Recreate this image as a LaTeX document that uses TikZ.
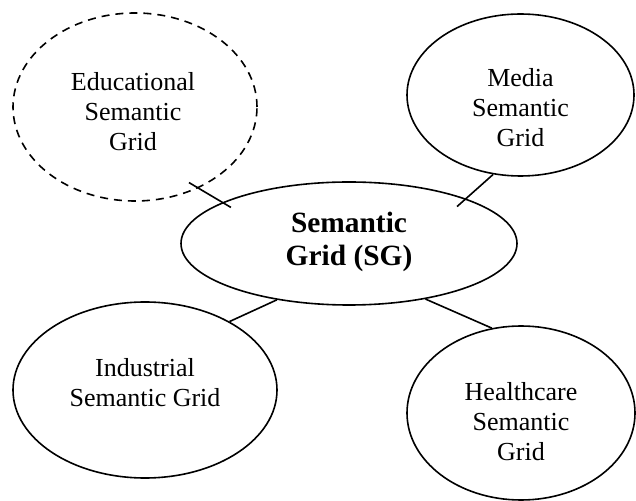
\documentclass[tikz,border=0pt]{standalone}
\usepackage{fontspec}
\setmainfont{Liberation Serif}
\usetikzlibrary{shapes.geometric}

\begin{document}
\begin{tikzpicture}[x=0.5pt,y=-0.5pt,
  bubble/.style={ellipse, draw, line width=0.8pt, inner sep=0pt},
  bubbletext/.style={align=center, font=\fontsize{13}{15}\selectfont},
  link/.style={line width=0.8pt}]
  \useasboundingbox (0,0) rectangle (636,501);
  \node[bubble, dash pattern=on 4pt off 3pt, minimum width=122pt, minimum height=94pt,
    label={[bubbletext, xshift=-1pt, yshift=-2.5pt]center:Educational\\Semantic\\Grid}] (edu) at (135,107) {};
  \node[bubble, minimum width=113.5pt, minimum height=81pt,
    label={[bubbletext, yshift=-6.5pt]center:Media\\Semantic\\Grid}] (media) at (520.5,95) {};
  \node[bubble, minimum width=168pt, minimum height=61.5pt,
    label={[align=center, font=\fontsize{14.7}{16.5}\selectfont\bfseries, yshift=1pt]center:Semantic\\Grid (SG)}] (sg) at (349,243.5) {};
  \node[bubble, minimum width=132pt, minimum height=88pt,
    label={[bubbletext, yshift=3.75pt]center:Industrial\\Semantic Grid}] (ind) at (145,390) {};
  \node[bubble, minimum width=114pt, minimum height=87pt,
    label={[bubbletext, yshift=-4.5pt]center:Healthcare\\Semantic\\Grid}] (hc) at (521,413) {};
  \draw[link, shorten <=-5.5pt, shorten >=-5pt] (edu.308.7) -- (sg.162.4);
  \draw[link, shorten >=-6pt] (media.251.9) -- (sg.21.7);
  \draw[link] (sg.218) -- (ind.39.3);
  \draw[link] (sg.324.7) -- (hc.109.7);
\end{tikzpicture}
\end{document}
